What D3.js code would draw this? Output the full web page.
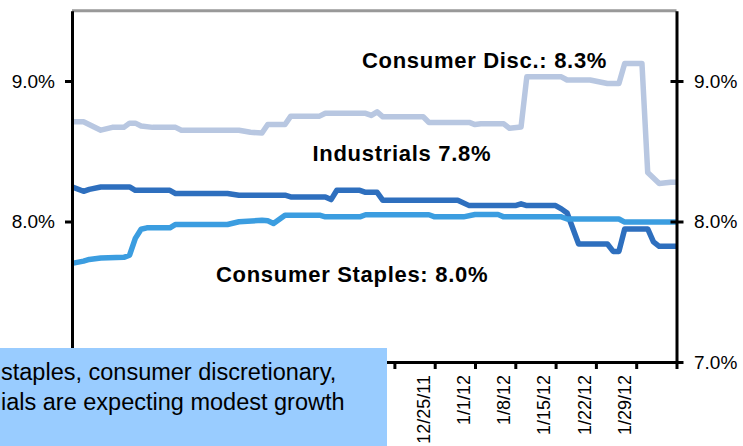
<!DOCTYPE html>
<html>
<head>
<meta charset="utf-8">
<script src="https://cdn.jsdelivr.net/npm/d3@7"></script>
<style>
  body { margin: 0; background: #fff; }
  svg { display: block; font-family: "Liberation Sans", Arial, sans-serif; }
</style>
</head>
<body>
<svg id="chart" width="743" height="446"></svg>
<script>
// y ticks (percent) and the x labels that show
const yTicks = [7.0, 8.0, 9.0];
const xTickLabels = ['12/25/11', '1/1/12', '1/8/12', '1/15/12', '1/22/12', '1/29/12'];

// series: [date, forward growth %]
const discData = [
  ['2011-10-23', 8.71], ['2011-10-25', 8.71], ['2011-10-28', 8.65], ['2011-10-30', 8.67],
  ['2011-11-01', 8.67], ['2011-11-02', 8.70], ['2011-11-03', 8.70], ['2011-11-04', 8.68],
  ['2011-11-06', 8.67], ['2011-11-10', 8.67], ['2011-11-11', 8.65], ['2011-11-21', 8.65],
  ['2011-11-23', 8.635], ['2011-11-25', 8.63], ['2011-11-26', 8.69], ['2011-11-29', 8.69],
  ['2011-11-30', 8.75], ['2011-12-05', 8.75], ['2011-12-06', 8.77], ['2011-12-13', 8.77],
  ['2011-12-14', 8.755], ['2011-12-15', 8.78], ['2011-12-16', 8.745], ['2011-12-23', 8.745],
  ['2011-12-24', 8.705], ['2011-12-31', 8.705], ['2012-01-01', 8.69], ['2012-01-02', 8.695],
  ['2012-01-06', 8.695], ['2012-01-07', 8.663], ['2012-01-09', 8.673], ['2012-01-10', 9.03],
  ['2012-01-16', 9.03], ['2012-01-17', 9.007], ['2012-01-21', 9.007], ['2012-01-24', 8.982],
  ['2012-01-26', 8.982], ['2012-01-27', 9.124], ['2012-01-30', 9.124], ['2012-01-31', 8.348],
  ['2012-02-02', 8.27], ['2012-02-04', 8.28], ['2012-02-05', 8.28]
];
const indData = [
  ['2011-10-23', 8.246], ['2011-10-25', 8.215], ['2011-10-26', 8.229], ['2011-10-28', 8.246],
  ['2011-11-02', 8.246], ['2011-11-03', 8.222], ['2011-11-09', 8.222], ['2011-11-10', 8.199],
  ['2011-11-19', 8.199], ['2011-11-21', 8.187], ['2011-11-29', 8.187], ['2011-11-30', 8.175],
  ['2011-12-06', 8.175], ['2011-12-07', 8.156], ['2011-12-08', 8.222], ['2011-12-12', 8.222],
  ['2011-12-13', 8.208], ['2011-12-15', 8.208], ['2011-12-16', 8.151], ['2011-12-29', 8.151],
  ['2011-12-31', 8.113], ['2012-01-08', 8.113], ['2012-01-09', 8.126], ['2012-01-10', 8.113],
  ['2012-01-15', 8.113], ['2012-01-16', 8.09], ['2012-01-17', 8.06], ['2012-01-19', 7.84],
  ['2012-01-24', 7.84], ['2012-01-25', 7.787], ['2012-01-26', 7.787], ['2012-01-27', 7.947],
  ['2012-01-31', 7.947], ['2012-02-01', 7.855], ['2012-02-02', 7.823], ['2012-02-05', 7.823]
];
const stapData = [
  ['2011-10-23', 7.702], ['2011-10-25', 7.718], ['2011-10-26', 7.73], ['2011-10-28', 7.74],
  ['2011-11-01', 7.745], ['2011-11-02', 7.76], ['2011-11-03', 7.88], ['2011-11-04', 7.945],
  ['2011-11-05', 7.955], ['2011-11-09', 7.955], ['2011-11-10', 7.979], ['2011-11-19', 7.979],
  ['2011-11-21', 7.998], ['2011-11-25', 8.009], ['2011-11-26', 8.005], ['2011-11-27', 7.986],
  ['2011-11-29', 8.045], ['2011-12-05', 8.045], ['2011-12-06', 8.033], ['2011-12-12', 8.033],
  ['2011-12-13', 8.048], ['2011-12-24', 8.048], ['2011-12-25', 8.033], ['2011-12-30', 8.033],
  ['2012-01-01', 8.05], ['2012-01-05', 8.05], ['2012-01-06', 8.033], ['2012-01-16', 8.033],
  ['2012-01-17', 8.018], ['2012-01-26', 8.018], ['2012-01-27', 7.996], ['2012-02-05', 7.996]
];

const parse = d3.timeParse('%Y-%m-%d');
const fmt = d3.timeFormat('%-m/%-d/%y');

const svg = d3.select('#chart');
const plotLeft = 72, plotRight = 676.5, plotTop = 10.75, plotBottom = 362;

const x = d3.scaleTime()
  .domain([parse('2011-10-23'), parse('2012-02-05')])
  .range([plotLeft, plotRight]);
const y = d3.scaleLinear()
  .domain([7, 9.5])
  .range([plotBottom, plotTop]);

const line = d3.line()
  .x(d => x(parse(d[0])))
  .y(d => y(d[1]));

const series = [
  { data: discData, color: '#b8c7e1' },
  { data: indData, color: '#2e6fbe' },
  { data: stapData, color: '#3b9de0' }
];

svg.selectAll('path.series')
  .data(series)
  .enter()
  .append('path')
  .attr('class', 'series')
  .attr('fill', 'none')
  .attr('stroke', d => d.color)
  .attr('stroke-width', 5.5)
  .attr('stroke-linejoin', 'round')
  .attr('d', d => line(d.data));

// top border
svg.append('line')
  .attr('x1', plotLeft).attr('x2', plotRight)
  .attr('y1', plotTop).attr('y2', plotTop)
  .attr('stroke', '#999').attr('stroke-width', 3);

const pct = d => d.toFixed(1) + '%';

// the 7.0% tick on the left sits under the callout box, so only the upper two show
const yLeft = svg.append('g')
  .attr('transform', `translate(${plotLeft},0)`)
  .call(d3.axisLeft(y).tickValues(yTicks.filter(v => v > 7)).tickFormat(pct)
    .tickSize(7).tickSizeOuter(0).tickPadding(10));

const yRight = svg.append('g')
  .attr('transform', `translate(${plotRight},0)`)
  .call(d3.axisRight(y).tickValues(yTicks).tickFormat(pct).tickSize(7).tickSizeOuter(0).tickPadding(10.5));
yRight.selectAll('.tick line').attr('x1', -6);

const xAxis = svg.append('g')
  .attr('transform', `translate(0,${plotBottom})`)
  .call(d3.axisBottom(x)
    .ticks(d3.timeWeek.every(1))
    .tickFormat(d => xTickLabels.includes(fmt(d)) ? fmt(d) : '')
    .tickSize(7).tickSizeOuter(0));

xAxis.selectAll('.tick text')
  .attr('transform', 'rotate(-90)')
  .attr('text-anchor', 'end')
  .attr('x', -13)
  .attr('y', -12)
  .attr('dy', '0.35em')
  .style('font-size', '18px');

[yLeft, yRight, xAxis].forEach(g => {
  g.select('.domain').attr('stroke', '#000').attr('stroke-width', 3);
  g.selectAll('.tick line').attr('stroke', '#000').attr('stroke-width', 3);
  g.selectAll('.tick text').attr('fill', '#000');
});
yLeft.selectAll('.tick text').style('font-size', '19px');
yRight.selectAll('.tick text').style('font-size', '19px');

// series labels
const labels = [
  { text: 'Consumer Disc.: 8.3%', x: 362, y: 68 },
  { text: 'Industrials 7.8%', x: 312.5, y: 160.5 },
  { text: 'Consumer Staples: 8.0%', x: 216, y: 282 }
];
svg.selectAll('text.lbl')
  .data(labels)
  .enter()
  .append('text')
  .attr('class', 'lbl')
  .attr('x', d => d.x)
  .attr('y', d => d.y)
  .style('font-size', '22px')
  .style('font-weight', 'bold')
  .style('letter-spacing', '0.7px')
  .text(d => d.text);

// callout box
svg.append('rect')
  .attr('x', 0).attr('y', 348)
  .attr('width', 387).attr('height', 98)
  .attr('fill', '#99ccff');

const noteLines = ['staples, consumer discretionary,', 'ials are expecting modest growth'];
svg.selectAll('text.note')
  .data(noteLines)
  .enter()
  .append('text')
  .attr('class', 'note')
  .attr('x', 1)
  .attr('y', (d, i) => 380 + i * 30)
  .style('font-size', '23.5px')
  .attr('fill', '#000')
  .text(d => d);
</script>
</body>
</html>
